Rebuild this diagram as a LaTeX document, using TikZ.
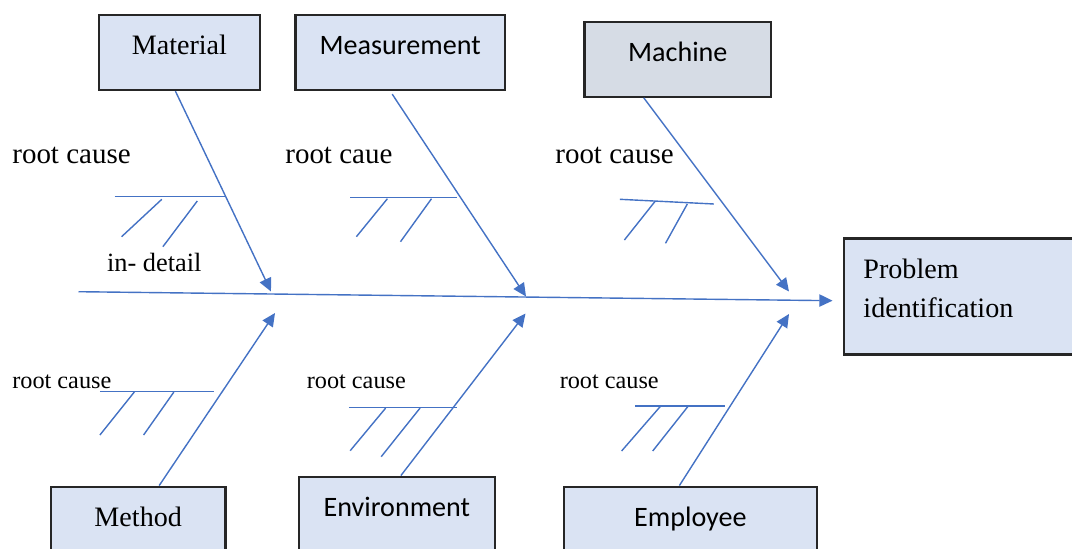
\documentclass[tikz,border=0pt]{standalone}
\usepackage{fontspec}
\setmainfont{Liberation Serif}
\newfontfamily\calibrifont{Carlito}
\usetikzlibrary{positioning, calc, arrows.meta}
\definecolor{Bone}{HTML}{4472C4}
\definecolor{Edge}{HTML}{262626}
\definecolor{BoxBlue}{HTML}{DAE3F3}
\definecolor{BoxGrey}{HTML}{D6DCE5}
\tikzset{
    causebox/.style={rectangle, draw=Edge, line width=1.3pt, fill=BoxBlue, minimum height=1.5cm,
                     text height=0.4cm, text depth=0.32cm, font=\fontsize{16}{19}\selectfont},
    sanscause/.style={causebox, font=\calibrifont\fontsize{16}{19}\selectfont},
    probbox/.style={rectangle, draw=Edge, line width=1.3pt, fill=BoxBlue, anchor=north west,
                    minimum height=2.32cm, text width=5cm, inner xsep=0.39cm, align=left,
                    font=\fontsize{16}{22}\selectfont},
    bone/.style={Bone, line width=0.8pt},
    arrow/.style={bone, -{Triangle[length=7.5pt, width=7pt]}},
    rootlabel/.style={anchor=base west, inner sep=0pt, font=\fontsize{16.5}{20}\selectfont},
    smallroot/.style={rootlabel, font=\fontsize{13.8}{16}\selectfont},
}

\begin{document}
\begin{tikzpicture}[x=0.02cm, y=-0.02cm]
    \useasboundingbox (0,0) rectangle (1072,548);

    % --- Spina centrale verso il problema ---
    \node[probbox] (prob) at (842.8,237.3) {Problem\\identification\rule[-0.32cm]{0pt}{0.32cm}};
    \coordinate (tail) at (78.5,291.7);
    \coordinate (head) at (832.5,300.7);
    \draw[arrow] (tail) -- (head);

    % punte delle frecce sulla spina
    \coordinate (matend) at (271,291.5);
    \coordinate (meaend) at (526,296.5);
    \coordinate (macend) at (789,291.5);
    \coordinate (mthend) at (275,313);
    \coordinate (envend) at (525.5,313.5);
    \coordinate (empend) at (789,314);

    % --- Categorie sopra ---
    \node[causebox, minimum width=3.22cm] (mat) at (179.4,52.5) {Material};
    \node[sanscause, minimum width=4.19cm] (mea) at (400.2,52.5) {Measurement};
    \node[sanscause, fill=BoxGrey, minimum width=3.73cm] (mac) at (677.8,59.2) {Machine};

    \draw[arrow] ($(mat.south)+(-4,0)$) -- (matend);
    \draw[arrow] ($(mea.south)+(-8,3)$) -- (meaend);
    \draw[arrow] ($(mac.south)+(-34,0)$) -- (macend);

    % --- Categorie sotto (tagliate dal bordo) ---
    \node[causebox, minimum width=3.49cm] (mth) at (138.2,524.2) {Method};
    \node[sanscause, minimum width=3.92cm] (env) at (396.9,514.2) {Environment};
    \node[sanscause, minimum width=5.06cm] (emp) at (690.4,524.2) {Employee};

    \draw[arrow] ($(mth.north)+(21,0)$) -- (mthend);
    \draw[arrow] ($(env.north)+(4,0)$) -- (envend);
    \draw[arrow] ($(emp.north)+(-11,0)$) -- (empend);

    % --- Etichette ---
    \node[rootlabel] (rc1) at (12,163) {root cause};
    \node[rootlabel] (rc2) at (285,163) {root caue};
    \node[rootlabel] (rc3) at (555,163) {root cause};
    \node[rootlabel, font=\fontsize{15}{18}\selectfont] (detail) at (106.7,271) {in- detail};
    \node[smallroot] (rb1) at (12,388) {root cause};
    \node[smallroot] (rb2) at (306.5,388) {root cause};
    \node[smallroot] (rb3) at (559.4,388) {root cause};

    % --- Lische secondarie ---
    % Material
    \draw[bone] (114.7,196.7) -- (226,196.7);
    \draw[bone] (161.8,199.3) -- (121.6,236.7);
    \draw[bone] (197.3,201) -- (162.9,246.7);
    % Measurement
    \draw[bone] (350,197.7) -- (457,197.7);
    \draw[bone] (387.4,198.7) -- (356.4,236.7);
    \draw[bone] (431.5,198.7) -- (400.5,241.7);
    % Machine
    \draw[bone] (619.9,199.3) -- (713.9,204);
    \draw[bone] (655.1,201.3) -- (624.4,240);
    \draw[bone] (687.3,204) -- (665.5,243.3);
    % Method
    \draw[bone] (99.9,391.7) -- (213.5,391.7);
    \draw[bone] (134.3,392) -- (99.9,435);
    \draw[bone] (173.9,392) -- (143.6,435);
    % Environment
    \draw[bone] (348.8,407.7) -- (457,407.7);
    \draw[bone] (385.7,408) -- (350.2,450.7);
    \draw[bone] (420.1,408) -- (381.2,456.7);
    % Employee
    \draw[bone] (635.4,406) -- (725.3,406);
    \draw[bone] (660.7,406) -- (621.6,451);
    \draw[bone] (688.3,406) -- (652.7,451);

\end{tikzpicture}
\end{document}
